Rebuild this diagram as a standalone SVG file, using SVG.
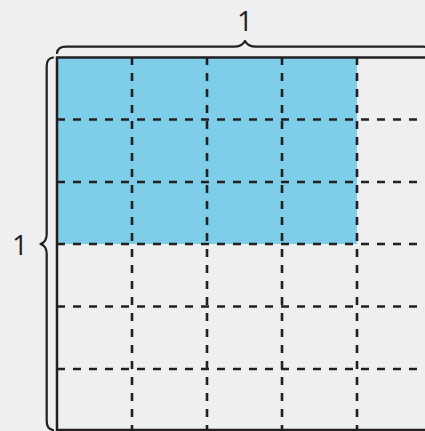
<svg xmlns="http://www.w3.org/2000/svg" width="425" height="431" viewBox="0 0 425 431">
<style>
.bg{fill:#eeeff1}
.fill{fill:#7ecde9}
.dash{stroke:#231f20;stroke-width:2.6;stroke-dasharray:8 8;fill:none}
.edge{stroke:#231f20;stroke-width:2.5;fill:none}
.brace{stroke:#231f20;stroke-width:2.2;fill:none;stroke-linejoin:round;stroke-linecap:round}
.lbl{font-family:"Open Sans","Noto Sans",sans-serif;font-size:28px;fill:#231f20;text-anchor:middle}
</style>
<rect class="bg" x="0" y="0" width="425" height="431"/>
<g id="grid">
  <rect class="fill" x="57" y="57.5" width="300" height="186.5"/>
  <g id="vlines">
    <line class="dash" x1="132" y1="57" x2="132" y2="431"/>
    <line class="dash" x1="207" y1="57" x2="207" y2="431"/>
    <line class="dash" x1="282" y1="57" x2="282" y2="431"/>
    <line class="dash" x1="357" y1="57" x2="357" y2="431"/>
  </g>
  <g id="hlines">
    <line class="dash" x1="57" y1="119.5" x2="432" y2="119.5"/>
    <line class="dash" x1="57" y1="182" x2="432" y2="182"/>
    <line class="dash" x1="57" y1="244" x2="432" y2="244"/>
    <line class="dash" x1="57" y1="306.5" x2="432" y2="306.5"/>
    <line class="dash" x1="57" y1="369" x2="432" y2="369"/>
  </g>
  <path class="edge" d="M 432 57.5 L 57 57.5 L 57 430 L 432 430"/>
</g>
<g id="top-brace">
  <path class="brace" d="M 57 53 Q 58 46.7 66 46.7 L 234 46.7 Q 242 46.7 245 41 Q 248 46.7 256 46.7 L 423 46.7 Q 431 46.7 432 53"/>
  <text class="lbl" x="245" y="30.5">1</text>
</g>
<g id="left-brace">
  <path class="brace" d="M 53 57.5 Q 46.7 58.5 46.7 66 L 46.7 234 Q 46.7 242 40.5 244 Q 46.7 246 46.7 254 L 46.7 421 Q 46.7 429 53 430"/>
  <text class="lbl" x="20" y="255">1</text>
</g>
</svg>
